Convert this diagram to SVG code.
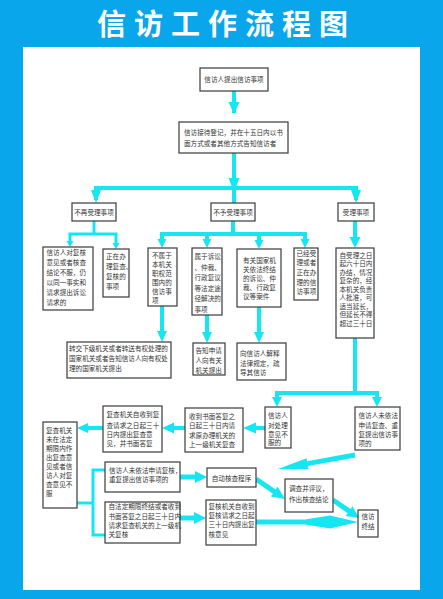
<svg xmlns="http://www.w3.org/2000/svg" width="443" height="599" viewBox="0 0 443 599">
<style>
.bx{fill:#fff;stroke:#3a3a3a;stroke-width:1.2}
.t{font-family:"Noto Sans CJK SC","Noto Sans CJK JP",sans-serif;font-size:6.6px;fill:#333}
.c{text-anchor:middle}
.cl{fill:none;stroke:#16e6f2;stroke-width:4;stroke-linejoin:miter}
.cl3{fill:none;stroke:#16e6f2;stroke-width:3}
.cl5{fill:none;stroke:#16e6f2;stroke-width:5}
.hd{fill:#16e6f2}
</style>
<rect x="0" y="0" width="443" height="599" fill="#0aa6ec"/>
<rect x="23" y="47" width="397" height="543" fill="#fff"/>
<text x="226.5" y="35" text-anchor="middle" font-family="'Noto Sans CJK SC','Noto Sans CJK JP',sans-serif" font-size="29" font-weight="bold" letter-spacing="8" fill="#fff">信访工作流程图</text>

<g id="connectors">
<path class="cl" d="M234,91 V113"/>
<polygon class="hd" points="228.5,102 239.5,102 234,114"/>
<path class="cl" d="M234,153 V203"/>
<polygon class="hd" points="228.5,178 239.5,178 234,192"/>
<path class="cl" d="M96,200 V188 H356 V200"/>
<polygon class="hd" points="91,190 101,190 96,203"/>
<polygon class="hd" points="351,190 361,190 356,203"/>

<path class="cl3" d="M94,221 V234"/>
<path class="cl3" d="M70,244 V234 H116 V246"/>
<polygon class="hd" points="66.5,241 73.5,241 70,247"/>
<polygon class="hd" points="112.5,243 119.5,243 116,249"/>

<path class="cl" d="M233,221 V234"/>
<path class="cl" d="M162,244 V234 H305 V244"/>
<path class="cl" d="M207,234 V244"/>
<path class="cl" d="M259,234 V245"/>
<polygon class="hd" points="157.5,239 166.5,239 162,248"/>
<polygon class="hd" points="202.5,239 211.5,239 207,248"/>
<polygon class="hd" points="254.5,240 263.5,240 259,249"/>
<polygon class="hd" points="300.5,239 309.5,239 305,248"/>

<path class="cl" d="M355,221 V240"/>
<polygon class="hd" points="349.5,237 360.5,237 355,248"/>

<path class="cl" d="M162,306 V334"/>
<polygon class="hd" points="157,331 167,331 162,342"/>
<path class="cl" d="M207,315 V335"/>
<polygon class="hd" points="202,332 212,332 207,343"/>
<path class="cl" d="M259,307 V335"/>
<polygon class="hd" points="254,332 264,332 259,343"/>

<path class="cl" d="M355,338 V393"/>
<path class="cl" d="M277,400 V393 H377 V400"/>
<polygon class="hd" points="272,397 282,397 277,407"/>
<polygon class="hd" points="372,397 382,397 377,407"/>

<path class="cl" d="M265,428 H255"/>
<polygon class="hd" points="256,422.5 256,433.5 243,428"/>
<path class="cl" d="M185,428 H173"/>
<polygon class="hd" points="174,422.5 174,433.5 162,428"/>
<path class="cl" d="M103,428 H86"/>
<polygon class="hd" points="88,423 88,433 77,428"/>

<path class="cl3" d="M77,503 H93"/>
<path class="cl3" d="M105,470 H93 V535 H105"/>

<path class="cl5" d="M180,477 H196"/>
<polygon class="hd" points="195,471 195,483 207,477"/>
<path class="cl5" d="M180,518 H195"/>
<polygon class="hd" points="194,512 194,524 206,518"/>

<polygon class="hd" points="254.58,481.06 272.88,493.66 270.89,496.54 285,499 277.71,486.66 275.72,489.54 257.42,476.94"/>
<polygon class="hd" points="331.58,502.06 347.71,513.23 345.72,516.1 359,518 352.54,506.24 350.55,509.11 334.42,497.94"/>
<polygon class="hd" points="256,519.5 305,519.5 330,515.5 358,522 330,528.5 305,524.5 256,524.5"/>
<polygon class="hd" points="354.55,452.54 307.07,461.17 306.54,458.22 278,469 308.5,469.04 307.97,466.09 355.45,457.46"/>
</g>

<g id="n1"><rect class="bx" x="200" y="68" width="68" height="23"/>
<text class="t c" x="234" y="82">信访人提出信访事项</text></g>

<g id="n2"><rect class="bx" x="179" y="122" width="109" height="31"/>
<text class="t" font-size="6.7"><tspan x="184" y="134.5">信访接待登记，并在十五日内以书</tspan><tspan x="184" y="145.5">面方式或者其他方式告知信访者</tspan></text></g>

<g id="n3a"><rect class="bx" x="72" y="203" width="44" height="18"/>
<text class="t c" x="94" y="214.5">不再受理事项</text></g>
<g id="n3b"><rect class="bx" x="211" y="203" width="44" height="18"/>
<text class="t c" x="233" y="214.5">不予受理事项</text></g>
<g id="n3c"><rect class="bx" x="338" y="203" width="36" height="18"/>
<text class="t c" x="356" y="214.5">受理事项</text></g>

<g id="n4a"><rect class="bx" x="43" y="247" width="50" height="63"/>
<text class="t" font-size="7"><tspan x="46.5" y="255.3">信访人对复核</tspan><tspan x="46.5" y="265.3">意见或者核查</tspan><tspan x="46.5" y="275.3">结论不服，仍</tspan><tspan x="46.5" y="285.3">以同一事实和</tspan><tspan x="46.5" y="295.3">请求提出诉讼</tspan><tspan x="46.5" y="305.3">请求的</tspan></text></g>

<g id="n4b"><rect class="bx" x="103" y="249" width="26" height="48"/>
<text class="t" font-size="6.5"><tspan x="106" y="258.5">正在办</tspan><tspan x="106" y="269">理复查、</tspan><tspan x="106" y="279">复核的</tspan><tspan x="106" y="289">事项</tspan></text></g>

<g id="n4c"><rect class="bx" x="148" y="248" width="29" height="58"/>
<text class="t" font-size="7"><tspan x="152" y="258">不属于</tspan><tspan x="152" y="267">本机关</tspan><tspan x="152" y="276">职权范</tspan><tspan x="152" y="285">围内的</tspan><tspan x="152" y="294">信访事</tspan><tspan x="152" y="303">项</tspan></text></g>

<g id="n4d"><rect class="bx" x="192" y="248" width="30" height="67"/>
<text class="t" font-size="6.3"><tspan x="194.5" y="259">属于诉讼</tspan><tspan x="194.5" y="269.5">、仲裁、</tspan><tspan x="194.5" y="280">行政复议</tspan><tspan x="194.5" y="290.5">等法定途</tspan><tspan x="194.5" y="301">径解决的</tspan><tspan x="194.5" y="311.5">事项</tspan></text></g>

<g id="n4e"><rect class="bx" x="237" y="249" width="44" height="58"/>
<text class="t" font-size="6.5"><tspan x="243" y="262.5">有关国家机</tspan><tspan x="243" y="271.5">关依法终结</tspan><tspan x="243" y="280.5">的诉讼、仲</tspan><tspan x="243" y="289.5">裁、行政复</tspan><tspan x="243" y="299">议等案件</tspan></text></g>

<g id="n4f"><rect class="bx" x="294" y="248" width="24" height="52"/>
<text class="t" font-size="6.5"><tspan x="296.5" y="255.5">已经受</tspan><tspan x="296.5" y="265.3">理或者</tspan><tspan x="296.5" y="275">正在办</tspan><tspan x="296.5" y="284.5">理的信</tspan><tspan x="296.5" y="293.5">访事项</tspan></text></g>

<g id="n4g"><rect class="bx" x="336" y="248" width="38" height="90"/>
<text class="t" font-size="6.5"><tspan x="339.5" y="257.5">自受理之日</tspan><tspan x="339.5" y="266">起六十日内</tspan><tspan x="339.5" y="274.5">办结，情况</tspan><tspan x="339.5" y="283">复杂的，经</tspan><tspan x="339.5" y="291.5">本机关负责</tspan><tspan x="339.5" y="300">人批准，可</tspan><tspan x="339.5" y="308.5">适当延长，</tspan><tspan x="339.5" y="317">但延长不得</tspan><tspan x="339.5" y="325.5">超过三十日</tspan></text></g>

<g id="n5a"><rect class="bx" x="67" y="342" width="104" height="36"/>
<text class="t"><tspan x="69" y="350.5">转交下级机关或者转送有权处理的</tspan><tspan x="69" y="360.5">国家机关或者告知信访人向有权处</tspan><tspan x="69" y="370.5">理的国家机关提出</tspan></text></g>

<g id="n5b"><rect class="bx" x="193" y="343" width="32" height="32"/>
<text class="t"><tspan x="195.5" y="353">告知申请</tspan><tspan x="195.5" y="363">人向有关</tspan><tspan x="195.5" y="372.5">机关提出</tspan></text></g>

<g id="n5c"><rect class="bx" x="237" y="343" width="49" height="37"/>
<text class="t" font-size="6.8"><tspan x="240" y="355.5">向信访人解释</tspan><tspan x="240" y="365.5">法律规定，疏</tspan><tspan x="240" y="375">导其信访</tspan></text></g>

<g id="n6a"><rect class="bx" x="265" y="407" width="26" height="41"/>
<text class="t" font-size="6.5"><tspan x="268" y="417.5">信访人</tspan><tspan x="268" y="427.5">对处理</tspan><tspan x="268" y="436.5">意见不</tspan><tspan x="268" y="445">服的</tspan></text></g>

<g id="n6b"><rect class="bx" x="355" y="407" width="45" height="43"/>
<text class="t" font-size="6.4"><tspan x="358.5" y="417.5">信访人未依法</tspan><tspan x="358.5" y="427.5">申请复查、重</tspan><tspan x="358.5" y="436.5">复提出信访事</tspan><tspan x="358.5" y="445.5">项的</tspan></text></g>

<g id="n6c"><rect class="bx" x="185" y="408" width="58" height="44"/>
<text class="t" font-size="7.1"><tspan x="189" y="419">收到书面答复之</tspan><tspan x="189" y="428.3">日起三十日内请</tspan><tspan x="189" y="437.5">求原办理机关的</tspan><tspan x="189" y="446.5">上一级机关复查</tspan></text></g>

<g id="n6d"><rect class="bx" x="103" y="406" width="59" height="46"/>
<text class="t"><tspan x="106.5" y="416.5">复查机关自收到复</tspan><tspan x="106.5" y="427.5">查请求之日起三十</tspan><tspan x="106.5" y="436.8">日内提出复查意</tspan><tspan x="106.5" y="445.8">见，并书面答复</tspan></text></g>

<g id="n6e"><rect class="bx" x="43" y="422" width="34" height="86"/>
<text class="t" font-size="7"><tspan x="46" y="432.5">复查机关</tspan><tspan x="46" y="441.6">未在法定</tspan><tspan x="46" y="450.7">期限内作</tspan><tspan x="46" y="459.8">出复查意</tspan><tspan x="46" y="468.9">见或者信</tspan><tspan x="46" y="478">访人对复</tspan><tspan x="46" y="487.1">查意见不</tspan><tspan x="46" y="496.2">服</tspan></text></g>

<g id="n7a"><rect class="bx" x="105" y="462" width="75" height="30"/>
<text class="t" font-size="6.2"><tspan x="109" y="472.5">信访人未依法申请复核，</tspan><tspan x="109" y="481.5">重复提出信访事项的</tspan></text></g>

<g id="n7b"><rect class="bx" x="105" y="502" width="75" height="41"/>
<text class="t" font-size="6.3"><tspan x="108.5" y="509">自法定期限终结或者收到</tspan><tspan x="108.5" y="519">书面答复之日起三十日内</tspan><tspan x="108.5" y="528">请求复查机关的上一级机</tspan><tspan x="108.5" y="537.3">关复核</tspan></text></g>

<g id="n7c"><rect class="bx" x="207" y="468" width="49" height="19"/>
<text class="t c" font-size="6.4" x="231.5" y="480.5">自动核查程序</text></g>

<g id="n7d"><rect class="bx" x="206" y="500" width="50" height="45"/>
<text class="t" font-size="6.6"><tspan x="208.5" y="509">复核机关自收到</tspan><tspan x="208.5" y="518">复核请求之日起</tspan><tspan x="208.5" y="527.3">三十日内提出复</tspan><tspan x="208.5" y="536.6">核意见</tspan></text></g>

<g id="n7e"><rect class="bx" x="285" y="479" width="48" height="33"/>
<text class="t" font-size="6.7"><tspan x="289" y="490.8">调查并评议，</tspan><tspan x="289" y="501.5">作出核查结论</tspan></text></g>

<g id="n7f"><rect class="bx" x="358" y="510" width="20" height="27"/>
<text class="t c" font-size="6.2"><tspan x="368" y="519">信访</tspan><tspan x="368" y="529">终结</tspan></text></g>
</svg>
